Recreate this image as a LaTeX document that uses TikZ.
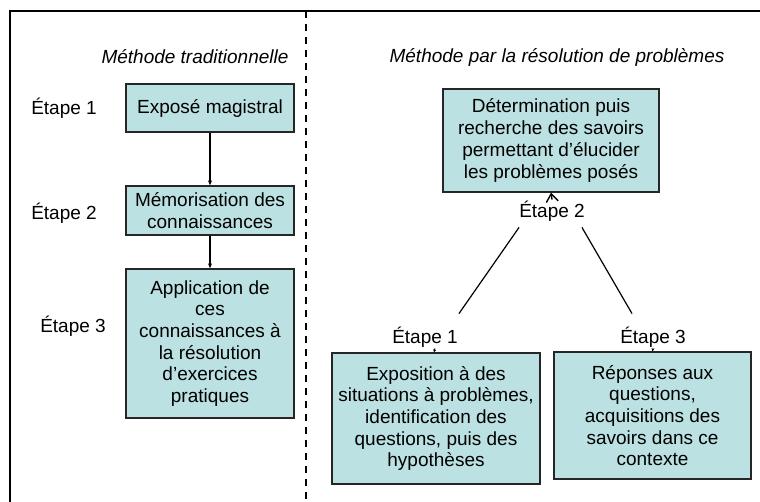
\documentclass[tikz,border=0pt]{standalone}
\usepackage{fontspec}
\setmainfont{Liberation Sans}
\usetikzlibrary{arrows.meta,calc}
\definecolor{boxfill}{RGB}{188,225,226}
\tikzset{
  stepbox/.style={draw=black!85, line width=1.3pt, fill=boxfill, align=center,
    inner sep=2pt, font=\fontsize{19}{21.7}\selectfont},
  lbl/.style={font=\fontsize{19}{21.7}\selectfont, inner sep=1pt},
  ttl/.style={font=\fontsize{19}{21.7}\selectfont\itshape, inner sep=1pt},
  link/.style={line width=1.2pt, -{Stealth[length=5pt,width=4pt]}},
  plain/.style={line width=1.2pt}
}
\begin{document}
\begin{tikzpicture}[x=1pt,y=-1pt]
\useasboundingbox (0,0) rectangle (760,502);
\fill[white] (0,0) rectangle (760,502);
\clip (0,0) rectangle (760,502);
% frame
\draw[line width=2pt] (10,520) -- (10,11) -- (780,11);
\draw[line width=2pt, dash pattern=on 7pt off 6pt] (305.5,11) -- (305.5,510);
% titles
\node[ttl] (t1) at (195,57) {Méthode traditionnelle};
\node[ttl] (t2) at (557,57) {Méthode par la résolution de problèmes};
% left column
\node[stepbox, minimum width=168pt, minimum height=48pt] (a1) at (210,108) {Exposé magistral};
\node[stepbox, minimum width=168pt, minimum height=49pt] (a2) at (210,210.5) {Mémorisation des\\connaissances};
\node[stepbox, minimum width=168pt, minimum height=149pt] (a3) at (210,343.5) {Application de\\ces\\connaissances à\\la résolution\\d'exercices\\pratiques};
\node[lbl] (l1) at (64,108) {Étape 1};
\node[lbl] (l2) at (64,213) {Étape 2};
\node[lbl] (l3) at (73,326) {Étape 3};
\draw[link] (a1) -- (a2);
\draw[link] (a2) -- (a3);
% right column
\node[stepbox, minimum width=216pt, minimum height=103pt] (b2) at (551,140.5) {Détermination puis\\recherche des savoirs\\permettant d'élucider\\les problèmes posés};
\node[stepbox, minimum width=208pt, minimum height=131pt] (b1) at (436,418.5) {Exposition à des\\situations à problèmes,\\identification des\\questions, puis des\\hypothèses};
\node[stepbox, minimum width=197pt, minimum height=127pt] (b3) at (652.5,415.5) {Réponses aux\\questions,\\acquisitions des\\savoirs dans ce\\contexte};
\node[lbl] (r2) at (552,211) {Étape 2};
\node[lbl] (r1) at (425,337) {Étape 1};
\node[lbl] (r3) at (653,337) {Étape 3};
\draw[line width=1.4pt, -{Straight Barb[length=8pt,width=12pt,line width=1.4pt]}] (r2.north) -- (b2.south);
\draw[plain] ($(r2.south west)+(1,5)$) -- ($(r1.north east)+(0,-12)$);
\draw[plain] ($(r2.south east)+(-4,5)$) -- ($(r3.north)+(-21,-12)$);
\draw[line width=1pt, -{Stealth[length=3pt,width=3pt]}] ($(r1.south)+(10,0)$) -- ($(b1.north)+(-2,0)$);
\draw[line width=1pt, -{Stealth[length=3pt,width=3pt]}] ($(r3.south)+(0,0)$) -- ($(b3.north)+(0,0)$);
\end{tikzpicture}
\end{document}
